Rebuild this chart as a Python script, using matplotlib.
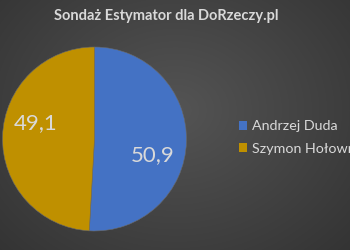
import numpy as np
import matplotlib.pyplot as plt
from matplotlib.patches import Patch

title = 'Sondaż Estymator dla DoRzeczy.pl'
names = ['Andrzej Duda', 'Szymon Hołownia']
values = [50.9, 49.1]
colors = ['#4472C4', '#BF9000']
txt_col = '#D9D9D9'

plt.rcParams['font.family'] = ['Lato', 'DejaVu Sans']

fig = plt.figure(figsize=(3.5, 2.5), dpi=100)

# radial gradient background
bg = fig.add_axes([0, 0, 1, 1], zorder=-10)
yy, xx = np.mgrid[0:250, 0:350]
r = np.sqrt(((xx - 175) / 230.0) ** 2 + ((yy - 110) / 190.0) ** 2)
shade = 0.33 - 0.12 * np.clip(r, 0, 1.3)
bg.imshow(np.dstack([shade] * 3), extent=[0, 1, 0, 1], aspect='auto')
bg.axis('off')

ax = fig.add_axes([0.007, 0.076, 0.526, 0.736])
wedges, _ = ax.pie(values, colors=colors, startangle=90, counterclock=False,
                   radius=1, wedgeprops=dict(linewidth=0.4, edgecolor='#6a6a6a'))
for w, v in zip(wedges, values):
    mid = np.deg2rad((w.theta1 + w.theta2) / 2 - 14)
    ax.text(0.66 * np.cos(mid), 0.66 * np.sin(mid), f'{v:.1f}'.replace('.', ','),
            ha='center', va='center', color=txt_col, fontsize=16)
ax.set_xlim(-1, 1)
ax.set_ylim(-1, 1)
ax.set_aspect('equal')

fig.text(0.476, 0.935, title, ha='center', va='center', color=txt_col,
         fontsize=10.5, fontweight='bold')

handles = [Patch(facecolor=c, edgecolor='none') for c in colors]
fig.legend(handles, names, loc='center left', bbox_to_anchor=(0.645, 0.45),
           frameon=False, fontsize=10.3, labelcolor=txt_col, handlelength=0.6,
           handleheight=0.6, handletextpad=0.35, labelspacing=0.75)

fig.savefig('out.png', dpi=100)
